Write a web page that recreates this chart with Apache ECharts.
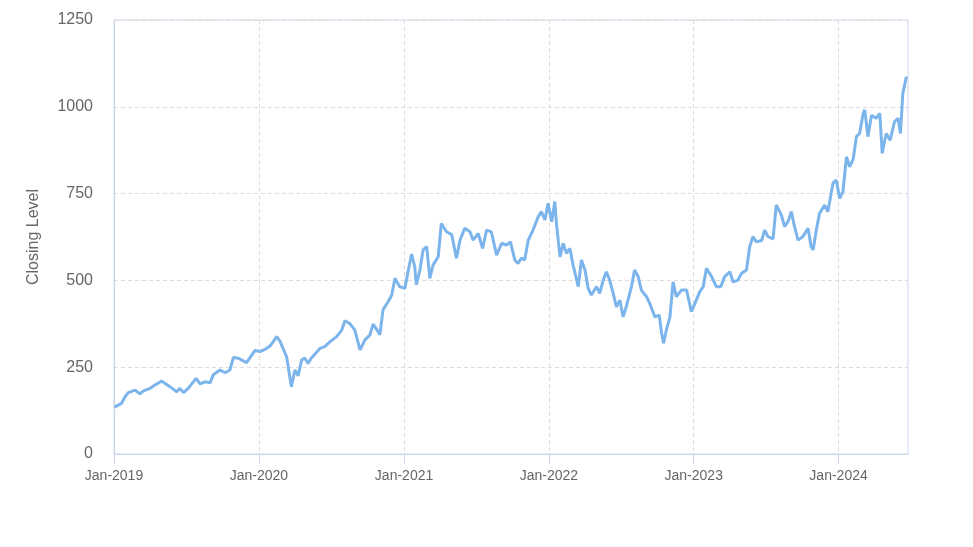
<!DOCTYPE html>
<html>
<head>
<meta charset="utf-8">
<script src="https://cdn.jsdelivr.net/npm/echarts@6/dist/echarts.min.js"></script>
<style>
html,body{margin:0;padding:0;background:#fff;}
#chart{width:973px;height:547px;}
</style>
</head>
<body>
<div id="chart"></div>
<script>
const dates = [
'2019-01-02','2019-01-20','2019-01-29','2019-02-06','2019-02-23','2019-03-07','2019-03-16','2019-04-02','2019-04-10','2019-05-01',
'2019-05-09','2019-05-22','2019-06-08','2019-06-16','2019-06-25','2019-07-07','2019-07-27','2019-08-06','2019-08-18','2019-08-31',
'2019-09-08','2019-09-25','2019-10-08','2019-10-20','2019-10-29','2019-11-10','2019-12-01','2019-12-22','2020-01-04','2020-01-16',
'2020-01-29','2020-02-06','2020-02-15','2020-02-23','2020-03-02','2020-03-11','2020-03-23','2020-04-01','2020-04-09','2020-04-18',
'2020-04-26','2020-05-04','2020-05-12','2020-06-03','2020-06-15','2020-06-28','2020-07-15','2020-07-28','2020-08-05','2020-08-17',
'2020-08-30','2020-09-12','2020-09-24','2020-10-07','2020-10-15','2020-10-28','2020-11-01','2020-11-09','2020-11-22','2020-12-01',
'2020-12-09','2020-12-21','2021-01-03','2021-01-11','2021-01-20','2021-01-28','2021-02-01','2021-02-10','2021-02-18','2021-02-27',
'2021-03-07','2021-03-15','2021-03-28','2021-04-05','2021-04-18','2021-05-01','2021-05-13','2021-05-22','2021-06-03','2021-06-16',
'2021-06-24','2021-07-07','2021-07-18','2021-07-28','2021-08-09','2021-08-22','2021-09-04','2021-09-16','2021-09-26','2021-10-07',
'2021-10-15','2021-10-24','2021-11-01','2021-11-10','2021-11-22','2021-12-05','2021-12-13','2021-12-22','2021-12-30','2022-01-08',
'2022-01-16','2022-01-20','2022-01-29','2022-02-06','2022-02-14','2022-02-23','2022-03-03','2022-03-16','2022-03-24','2022-04-02',
'2022-04-10','2022-04-18','2022-05-01','2022-05-09','2022-05-18','2022-05-26','2022-06-03','2022-06-12','2022-06-20','2022-06-29',
'2022-07-07','2022-07-15','2022-07-28','2022-08-05','2022-08-14','2022-08-22','2022-09-04','2022-09-12','2022-09-25','2022-10-06',
'2022-10-12','2022-10-17','2022-10-24','2022-11-02','2022-11-10','2022-11-18','2022-12-01','2022-12-14','2022-12-26','2023-01-04',
'2023-01-16','2023-01-25','2023-02-02','2023-02-15','2023-02-27','2023-03-10','2023-03-20','2023-04-02','2023-04-10','2023-04-22',
'2023-05-01','2023-05-14','2023-05-22','2023-05-30','2023-06-08','2023-06-21','2023-06-29','2023-07-07','2023-07-20','2023-07-28',
'2023-08-10','2023-08-18','2023-08-27','2023-09-04','2023-09-12','2023-09-21','2023-10-03','2023-10-16','2023-10-24','2023-10-29',
'2023-11-06','2023-11-14','2023-11-27','2023-12-05','2023-12-18','2023-12-26','2024-01-04','2024-01-12','2024-01-21','2024-01-29',
'2024-02-07','2024-02-15','2024-02-23','2024-03-03','2024-03-07','2024-03-15','2024-03-24','2024-04-05','2024-04-14','2024-04-20',
'2024-04-30','2024-05-10','2024-05-21','2024-05-30','2024-06-05','2024-06-11','2024-06-20'
];
const closing = [
135,146,165,177,184,173,182,189,196,210,
204,194,179,189,177,189,218,202,208,205,
228,242,234,242,278,276,263,298,295,301,
311,323,338,326,304,280,194,242,225,271,
276,261,276,304,309,323,338,357,384,376,
357,300,328,343,374,352,343,415,439,458,
506,482,477,525,576,539,487,530,588,597,
506,544,568,664,640,632,564,616,650,640,
616,635,592,645,640,573,607,602,611,559,
549,564,559,616,645,683,698,674,722,669,
727,664,568,607,578,592,544,482,559,530,
477,458,482,463,501,525,501,463,424,443,
395,424,482,530,511,472,453,434,395,400,
348,319,357,395,496,453,472,472,410,434,
467,482,535,511,482,482,511,525,496,500,
520,530,597,626,611,615,645,626,620,717,
688,655,670,698,655,616,626,650,597,588,
645,693,717,698,780,789,736,756,856,827,
850,914,923,981,991,914,976,967,981,866,
923,904,957,967,923,1039,1087
];
const yearTicks = ['2019-01-01','2020-01-01','2021-01-01','2022-01-01','2023-01-01','2024-01-01'];
const monthNames = ['Jan','Feb','Mar','Apr','May','Jun','Jul','Aug','Sep','Oct','Nov','Dec'];
const yAxisName = 'Closing Level';

function toTs(s){ const p = s.split('-').map(Number); return new Date(p[0], p[1]-1, p[2]).getTime(); }
const seriesData = dates.map((d,i)=>[toTs(d), closing[i]]);
const tickVals = yearTicks.map(toTs);

const chart = echarts.init(document.getElementById('chart'));
chart.setOption({
  animation:false,
  backgroundColor:'#ffffff',
  textStyle:{fontFamily:'Arial, "Liberation Sans", sans-serif'},
  grid:{left:114,right:65,top:20,bottom:93,show:true,borderColor:'#ccd6eb',borderWidth:1,backgroundColor:'transparent'},
  xAxis:{
    type:'value',
    min:toTs('2019-01-01'),
    max:toTs('2024-06-24'),
    axisLine:{show:true,lineStyle:{color:'#ccd6eb',width:1}},
    axisTick:{show:true,length:10,lineStyle:{color:'#ccd6eb'},customValues:tickVals},
    axisLabel:{color:'#666666',fontSize:14,margin:15,customValues:tickVals,
      formatter:function(v){const d=new Date(v);return monthNames[d.getMonth()]+'-'+d.getFullYear();}},
    splitLine:{show:true,lineStyle:{color:'#dcdcdc',type:[4,3],width:1}}
  },
  yAxis:{
    type:'value',min:0,max:1250,interval:250,
    name:yAxisName,nameLocation:'middle',nameGap:72,nameRotate:90,
    nameTextStyle:{color:'#666666',fontSize:16},
    axisLine:{show:true,lineStyle:{color:'#ccd6eb',width:1}},
    axisTick:{show:false},
    axisLabel:{color:'#666666',fontSize:16,margin:21,formatter:function(v){return String(v);}},
    splitLine:{show:true,lineStyle:{color:'#dcdcdc',type:[4,3],width:1}}
  },
  series:[{
    type:'line',data:seriesData,showSymbol:false,symbol:'none',
    lineStyle:{color:'#7cb5ec',width:3},
    itemStyle:{color:'#7cb5ec'}
  }]
});
</script>
</body>
</html>
